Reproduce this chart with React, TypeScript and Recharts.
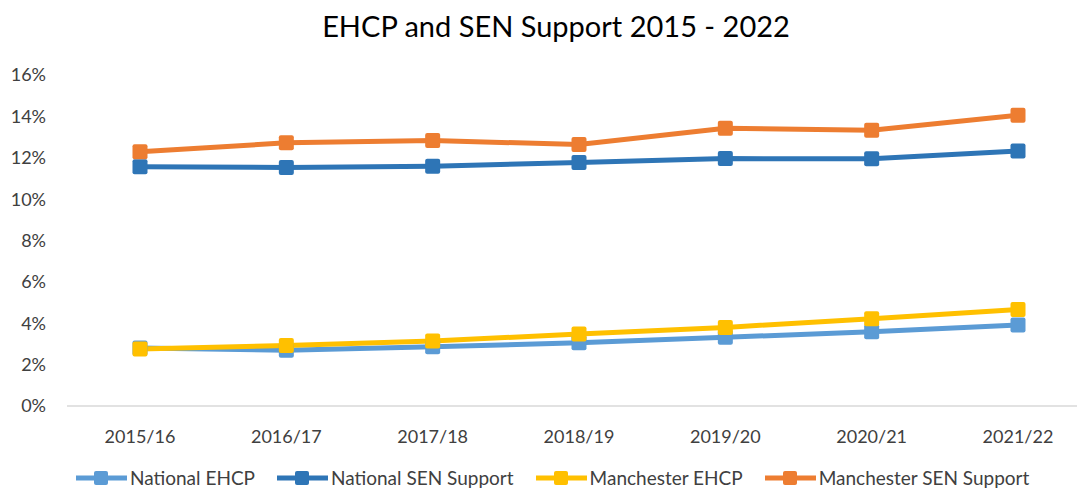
import { LineChart, Line, XAxis, YAxis, Legend } from "recharts";

const years = ["2015/16", "2016/17", "2017/18", "2018/19", "2019/20", "2020/21", "2021/22"];
const nationalEhcp = [2.8, 2.7, 2.86, 3.06, 3.32, 3.59, 3.91];
const nationalSen = [11.56, 11.53, 11.59, 11.77, 11.96, 11.95, 12.33];
const manchesterEhcp = [2.75, 2.93, 3.14, 3.48, 3.8, 4.22, 4.67];
const manchesterSen = [12.29, 12.72, 12.83, 12.64, 13.43, 13.33, 14.06];
const yTicks = [0, 2, 4, 6, 8, 10, 12, 14, 16];

const series = [
  { key: "nationalEhcp", name: "National EHCP", color: "#5B9BD5" },
  { key: "nationalSen", name: "National SEN Support", color: "#2E75B6" },
  { key: "manchesterEhcp", name: "Manchester EHCP", color: "#FFC000" },
  { key: "manchesterSen", name: "Manchester SEN Support", color: "#ED7D31" },
];

const data = years.map((year, i) => ({
  year,
  nationalEhcp: nationalEhcp[i],
  nationalSen: nationalSen[i],
  manchesterEhcp: manchesterEhcp[i],
  manchesterSen: manchesterSen[i],
}));

const font = "Lato, 'Open Sans', sans-serif";

function squareDot(color: string) {
  return (props: any) => {
    const { cx, cy, index } = props;
    if (cx == null || cy == null) return <g key={index} />;
    return (
      <rect
        key={index}
        x={cx - 7.5}
        y={cy - 7.5}
        width={15}
        height={15}
        rx={2}
        fill={color}
      />
    );
  };
}

function LegendContent() {
  return (
    <div
      style={{
        display: "flex",
        alignItems: "center",
        paddingLeft: 76,
        paddingTop: 8,
        fontFamily: font,
        fontSize: 19,
        lineHeight: "20px",
        color: "#404040",
      }}
    >
      {series.map((s) => (
        <div key={s.key} style={{ display: "flex", alignItems: "center", marginRight: 22 }}>
          <svg width={51} height={16} style={{ marginRight: 3 }}>
            <line x1={0} y1={8} x2={51} y2={8} stroke={s.color} strokeWidth={5} strokeLinecap="round" />
            <rect x={18} y={1} width={14} height={14} rx={2} fill={s.color} />
          </svg>
          <span>{s.name}</span>
        </div>
      ))}
    </div>
  );
}

export default function App() {
  return (
    <div
      style={{
        position: "fixed",
        left: 0,
        top: 0,
        width: 1077,
        height: 490,
        overflow: "hidden",
        background: "#ffffff",
      }}
    >
      <div
        style={{
          position: "absolute",
          left: 0,
          top: 8,
          width: 1112,
          textAlign: "center",
          fontFamily: font,
          fontSize: 29,
          color: "#000000",
          zIndex: 1,
        }}
      >
        EHCP and SEN Support 2015 - 2022
      </div>
      <LineChart
        width={1077}
        height={490}
        data={data}
        margin={{ top: 75, right: 0, left: 0, bottom: 0 }}
      >
        <XAxis
          dataKey="year"
          height={54}
          padding={{ left: 73, right: 59 }}
          tickLine={false}
          tickMargin={18}
          axisLine={{ stroke: "#d9d9d9", strokeWidth: 1.5 }}
          tick={{ fill: "#404040", fontSize: 18, fontFamily: font }}
          interval={0}
        />
        <YAxis
          width={67}
          domain={[0, 16]}
          ticks={yTicks}
          tickFormatter={(v) => `${v}%`}
          axisLine={false}
          tickLine={false}
          tickMargin={15}
          tick={{ fill: "#404040", fontSize: 18, fontFamily: font }}
        />
        <Legend verticalAlign="bottom" align="left" height={30} content={<LegendContent />} />
        {series.map((s) => (
          <Line
            key={s.key}
            dataKey={s.key}
            name={s.name}
            stroke={s.color}
            strokeWidth={5}
            type="linear"
            dot={squareDot(s.color)}
            activeDot={false}
            isAnimationActive={false}
          />
        ))}
      </LineChart>
    </div>
  );
}
